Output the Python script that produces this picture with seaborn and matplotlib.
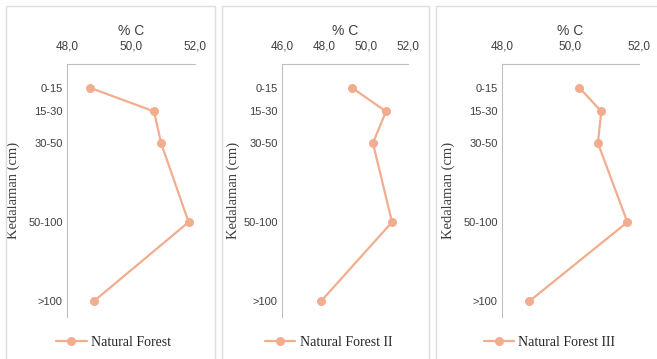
import matplotlib
matplotlib.use("Agg")
import matplotlib.pyplot as plt
import seaborn as sns
import pandas as pd
from matplotlib.patches import Rectangle

# ---- data ----
depth_labels = ["0-15", "15-30", "30-50", "50-100", ">100"]
depth_pos = [15, 30, 50, 100, 150]
series_names = ["Natural Forest", "Natural Forest II", "Natural Forest III"]
nf1 = [48.72, 50.72, 50.94, 51.80, 48.84]
nf2 = [49.33, 50.95, 50.33, 51.24, 47.86]
nf3 = [50.26, 50.90, 50.80, 51.66, 48.80]
x_ticks = [[48.0, 50.0, 52.0], [46.0, 48.0, 50.0, 52.0], [48.0, 50.0, 52.0]]
x_limits = [(48.0, 52.0), (46.0, 52.0), (48.0, 52.0)]

sns.set_theme(style="white")
plt.rcParams['font.family'] = ['Liberation Sans', 'DejaVu Sans']

W, H = 657, 359
fig = plt.figure(figsize=(W / 100, H / 100), dpi=100)

line_color = "#F2AD8F"
grey = "#DDDDDD"

# axes pixel boxes (left, right, top, bottom)
boxes = [(67, 195, 64, 317), (282, 408, 64, 317), (502, 639, 64, 317)]
frames = [(6, 215), (222, 429), (436, 662)]
ylabel_px = [47, 42, 47]

for i, (vals, name) in enumerate(zip([nf1, nf2, nf3], series_names)):
    l, r, t, b = boxes[i]
    ax = fig.add_axes([l / W, 1 - b / H, (r - l) / W, (b - t) / H])
    df = pd.DataFrame({"C": vals, "depth": depth_pos})
    sns.lineplot(data=df, x="C", y="depth", sort=False, estimator=None,
                 marker="o", markersize=6.5, color=line_color, linewidth=1.6,
                 markeredgewidth=0, label=name, ax=ax, legend=False)
    ax.set_xlim(*x_limits[i])
    ax.set_ylim(160, 0)
    ax.set_xticks(x_ticks[i])
    ax.set_xticklabels([f"{v:.1f}".replace(".", ",") for v in x_ticks[i]])
    ax.set_yticks(depth_pos)
    ax.set_yticklabels(depth_labels)
    ax.xaxis.tick_top()
    ax.tick_params(axis="x", length=0, pad=8, labelsize=8.5, labelcolor="#404040")
    ax.tick_params(axis="y", length=0, pad=3, labelsize=8, labelcolor="#404040")
    for s in ["right", "bottom"]:
        ax.spines[s].set_visible(False)
    for s in ["top", "left"]:
        ax.spines[s].set_color("#BFBFBF")
        ax.spines[s].set_linewidth(0.8)
    ax.set_xlabel("")
    ax.set_ylabel("Kedalaman (cm)", family=["Liberation Serif"], fontsize=10.5,
                  color="#404040")
    ax.yaxis.set_label_coords(-ylabel_px[i] / (r - l), 0.5)
    ax.set_title("% C", fontsize=10, color="#404040", pad=0,
                 y=1 + (t - 29 - 6) / (b - t))
    ax.patch.set_alpha(0)

    fl, fr = frames[i]
    fig.patches.append(Rectangle((fl / W, -0.05), (fr - fl) / W, 1 - 6 / H + 0.05,
                                 transform=fig.transFigure, fill=False,
                                 edgecolor=grey, linewidth=1.0, zorder=0))
    h, lab = ax.get_legend_handles_labels()
    cx = (fl + min(fr, 657)) / 2 + 3
    fig.legend(h, lab, loc="center", bbox_to_anchor=(cx / W, 1 - 342 / H),
               frameon=False, handlelength=2.2, handletextpad=0.3,
               prop={"family": "Liberation Serif", "size": 10},
               labelcolor="#262626")

fig.savefig("out.png", dpi=100)
